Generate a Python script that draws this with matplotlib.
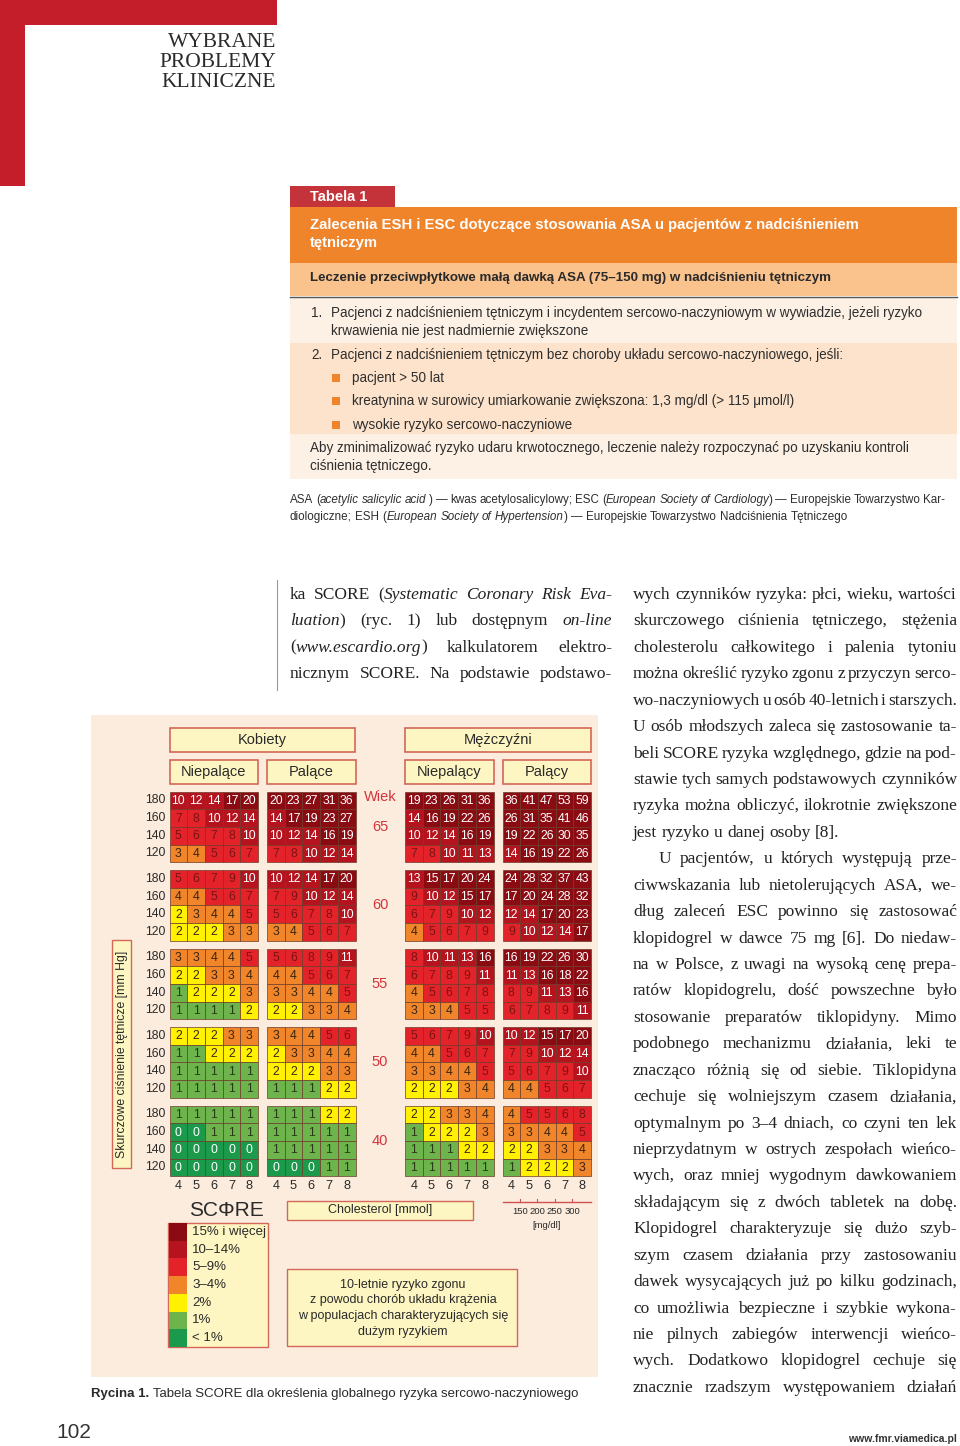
import matplotlib
matplotlib.use('Agg')
import matplotlib.pyplot as plt
from matplotlib.patches import Rectangle

plt.rcParams['font.family'] = ['Liberation Sans', 'DejaVu Sans']

# ---------------- data ----------------
ages = [65, 60, 55, 50, 40]
sbp = [180, 160, 140, 120]
chol = [4, 5, 6, 7, 8]

women_non = [
    [[10, 12, 14, 17, 20], [7, 8, 10, 12, 14], [5, 6, 7, 8, 10], [3, 4, 5, 6, 7]],
    [[5, 6, 7, 9, 10], [4, 4, 5, 6, 7], [2, 3, 4, 4, 5], [2, 2, 2, 3, 3]],
    [[3, 3, 4, 4, 5], [2, 2, 3, 3, 4], [1, 2, 2, 2, 3], [1, 1, 1, 1, 2]],
    [[2, 2, 2, 3, 3], [1, 1, 2, 2, 2], [1, 1, 1, 1, 1], [1, 1, 1, 1, 1]],
    [[1, 1, 1, 1, 1], [0, 0, 1, 1, 1], [0, 0, 0, 0, 0], [0, 0, 0, 0, 0]],
]
women_smk = [
    [[20, 23, 27, 31, 36], [14, 17, 19, 23, 27], [10, 12, 14, 16, 19], [7, 8, 10, 12, 14]],
    [[10, 12, 14, 17, 20], [7, 9, 10, 12, 14], [5, 6, 7, 8, 10], [3, 4, 5, 6, 7]],
    [[5, 6, 8, 9, 11], [4, 4, 5, 6, 7], [3, 3, 4, 4, 5], [2, 2, 3, 3, 4]],
    [[3, 4, 4, 5, 6], [2, 3, 3, 4, 4], [2, 2, 2, 3, 3], [1, 1, 1, 2, 2]],
    [[1, 1, 1, 2, 2], [1, 1, 1, 1, 1], [1, 1, 1, 1, 1], [0, 0, 0, 1, 1]],
]
men_non = [
    [[19, 23, 26, 31, 36], [14, 16, 19, 22, 26], [10, 12, 14, 16, 19], [7, 8, 10, 11, 13]],
    [[13, 15, 17, 20, 24], [9, 10, 12, 15, 17], [6, 7, 9, 10, 12], [4, 5, 6, 7, 9]],
    [[8, 10, 11, 13, 16], [6, 7, 8, 9, 11], [4, 5, 6, 7, 8], [3, 3, 4, 5, 5]],
    [[5, 6, 7, 9, 10], [4, 4, 5, 6, 7], [3, 3, 4, 4, 5], [2, 2, 2, 3, 4]],
    [[2, 2, 3, 3, 4], [1, 2, 2, 2, 3], [1, 1, 1, 2, 2], [1, 1, 1, 1, 1]],
]
men_smk = [
    [[36, 41, 47, 53, 59], [26, 31, 35, 41, 46], [19, 22, 26, 30, 35], [14, 16, 19, 22, 26]],
    [[24, 28, 32, 37, 43], [17, 20, 24, 28, 32], [12, 14, 17, 20, 23], [9, 10, 12, 14, 17]],
    [[16, 19, 22, 26, 30], [11, 13, 16, 18, 22], [8, 9, 11, 13, 16], [6, 7, 8, 9, 11]],
    [[10, 12, 15, 17, 20], [7, 9, 10, 12, 14], [5, 6, 7, 9, 10], [4, 4, 5, 6, 7]],
    [[4, 5, 5, 6, 8], [3, 3, 4, 4, 5], [2, 2, 3, 3, 4], [1, 2, 2, 2, 3]],
]
panels = [women_non, women_smk, men_non, men_smk]
groups = ['Niepalące', 'Palące', 'Niepalący', 'Palący']
sexes = ['Kobiety', 'Mężczyźni']

risk_labels = ['15% i więcej', '10–14%', '5–9%', '3–4%', '2%', '1%', '< 1%']
risk_colors = ['#8b0b13', '#b5141e', '#e42229', '#f0852a', '#fff100', '#6cb44b', '#1c9a4b']
risk_text = ['white', 'white', '#7a1414', '#3a2410', '#3a2410', '#2b3a16', 'white']
mgdl_ticks = [150, 200, 250, 300]

header_lines = ['WYBRANE', 'PROBLEMY', 'KLINICZNE']
table_title = ['Zalecenia ESH i ESC dotyczące stosowania ASA u pacjentów z nadciśnieniem',
               'tętniczym']
table_sub = 'Leczenie przeciwpłytkowe małą dawką ASA (75–150 mg) w nadciśnieniu tętniczym'
item1 = ['Pacjenci z nadciśnieniem tętniczym i incydentem sercowo-naczyniowym w wywiadzie, jeżeli ryzyko',
         'krwawienia nie jest nadmiernie zwiększone']
item2 = 'Pacjenci z nadciśnieniem tętniczym bez choroby układu sercowo-naczyniowego, jeśli:'
bullets = ['pacjent > 50 lat',
           'kreatynina w surowicy umiarkowanie zwiększona: 1,3 mg/dl (> 115 μmol/l)',
           'wysokie ryzyko sercowo-naczyniowe']
table_note = ['Aby zminimalizować ryzyko udaru krwotocznego, leczenie należy rozpoczynać po uzyskaniu kontroli',
              'ciśnienia tętniczego.']
footnote = ['ASA (*acetylic salicylic acid* ) — kwas acetylosalicylowy; ESC (*European Society of Cardiology*) — Europejskie Towarzystwo Kar-',
            'diologiczne; ESH (*European Society of Hypertension*) — Europejskie Towarzystwo Nadciśnienia Tętniczego']

left_col = ['ka SCORE (*Systematic Coronary Risk Eva-*',
            '*luation*) (ryc. 1) lub dostępnym *on-line*',
            '(*www.escardio.org*) kalkulatorem elektro-',
            'nicznym SCORE. Na podstawie podstawo-']
right_col = ['wych czynników ryzyka: płci, wieku, wartości',
             'skurczowego ciśnienia tętniczego, stężenia',
             'cholesterolu całkowitego i palenia tytoniu',
             'można określić ryzyko zgonu z przyczyn serco-',
             'wo-naczyniowych u osób 40-letnich i starszych.',
             'U osób młodszych zaleca się zastosowanie ta-',
             'beli SCORE ryzyka względnego, gdzie na pod-',
             'stawie tych samych podstawowych czynników',
             'ryzyka można obliczyć, ilokrotnie zwiększone',
             'jest ryzyko u danej osoby [8].',
             'U pacjentów, u których występują prze-',
             'ciwwskazania lub nietolerujących ASA, we-',
             'dług zaleceń ESC powinno się zastosować',
             'klopidogrel w dawce 75 mg [6]. Do niedaw-',
             'na w Polsce, z uwagi na wysoką cenę prepa-',
             'ratów klopidogrelu, dość powszechne było',
             'stosowanie preparatów tiklopidyny. Mimo',
             'podobnego mechanizmu działania, leki te',
             'znacząco różnią się od siebie. Tiklopidyna',
             'cechuje się wolniejszym czasem działania,',
             'optymalnym po 3–4 dniach, co czyni ten lek',
             'nieprzydatnym w ostrych zespołach wieńco-',
             'wych, oraz mniej wygodnym dawkowaniem',
             'składającym się z dwóch tabletek na dobę.',
             'Klopidogrel charakteryzuje się dużo szyb-',
             'szym czasem działania przy zastosowaniu',
             'dawek wysycających już po kilku godzinach,',
             'co umożliwia bezpieczne i szybkie wykona-',
             'nie pilnych zabiegów interwencji wieńco-',
             'wych. Dodatkowo klopidogrel cechuje się',
             'znacznie rzadszym występowaniem działań']
right_indent = [10]
right_ragged = [9]

desc_lines = ['10-letnie ryzyko zgonu', 'z powodu chorób układu krążenia',
              'w populacjach charakteryzujących się', 'dużym ryzykiem']

# ---------------- figure ----------------
fig = plt.figure(figsize=(9.6, 14.46), dpi=100)
ax = fig.add_axes([0, 0, 1, 1])
ax.set_xlim(0, 960)
ax.set_ylim(1446, 0)
ax.axis('off')
renderer = fig.canvas.get_renderer()

RED = '#c41e2a'
TXT = '#2e2e2e'
BOX_FC = '#fdf6c2'
BOX_EC = '#d4675a'
SERIF = ['Liberation Serif', 'DejaVu Serif']


def rect(x, y, w, h, fc, ec='none', lw=0, z=1):
    ax.add_patch(Rectangle((x, y), w, h, facecolor=fc, edgecolor=ec, linewidth=lw, zorder=z))


def measure(s, **kw):
    t = ax.text(0, 0, s, **kw)
    w = t.get_window_extent(renderer).width
    t.remove()
    return w


def parse_words(line):
    words = [[]]
    for i, part in enumerate(line.split('*')):
        style = 'italic' if i % 2 else 'normal'
        for j, c in enumerate(part.split(' ')):
            if j > 0:
                words.append([])
            if c:
                words[-1].append((c, style))
    return [w for w in words if w]


def set_line(x0, x1, y, line, justify=True, **kw):
    words = parse_words(line)
    widths = [sum(measure(s, style=st, **kw) for s, st in w) for w in words]
    space = measure('x x', **kw) - measure('xx', **kw)
    if justify and len(words) > 1:
        gap = (x1 - x0 - sum(widths)) / (len(words) - 1)
    else:
        gap = space
    x = x0
    for w, wd in zip(words, widths):
        xx = x
        for s, st in w:
            ax.text(xx, y, s, style=st, va='baseline', ha='left', **kw)
            xx += measure(s, style=st, **kw)
        x += wd + gap


# page frame
rect(0, 0, 277, 25, RED)
rect(0, 0, 25, 186, RED)
for i, s in enumerate(header_lines):
    ax.text(276, 47 + i * 20, s, ha='right', va='baseline', fontsize=15.5,
            family=SERIF, color='#2a2a2a')

# table 1
rect(290, 186, 105, 22, '#c4333a')
ax.text(310, 197, 'Tabela 1', color='white', fontweight='bold', fontsize=10.5, va='center')
rect(290, 207, 667, 56, '#f0842b')
for i, s in enumerate(table_title):
    ax.text(310, 225 + i * 18, s, color='white', fontweight='bold', fontsize=10.7, va='center')
rect(290, 263, 667, 33, '#fac28c')
ax.text(310, 278, table_sub, color='#2a2a2a', fontweight='bold', fontsize=9.6, va='center')
ax.plot([290, 957], [296.5, 296.5], color='#555555', lw=1)
rect(290, 297, 667, 46, '#fdf1e5')
rect(290, 343, 667, 91, '#fde3cb')
rect(290, 434, 667, 45, '#fdf1e5')

fs_t = 9.75
ax.text(311, 313, '1.', color=TXT, fontsize=fs_t, va='center')
for i, s in enumerate(item1):
    ax.text(331, 313 + i * 18, s, color=TXT, fontsize=fs_t, va='center')
ax.text(311, 355, '2.', color=TXT, fontsize=fs_t, va='center')
ax.text(331, 355, item2, color=TXT, fontsize=fs_t, va='center')
for i, s in enumerate(bullets):
    yy = 378 + i * 23.3
    rect(332, yy - 4, 8, 8, '#f0842b')
    ax.text(352, yy, s, color=TXT, fontsize=fs_t, va='center')
for i, s in enumerate(table_note):
    ax.text(310, 448 + i * 18, s, color=TXT, fontsize=fs_t, va='center')
for i, s in enumerate(footnote):
    set_line(290, 945, 503 + i * 17, s, justify=(i == 0), fontsize=8.4, color=TXT)

# body text columns
ax.plot([277, 277], [580, 690], color='#999999', lw=0.8)
for i, s in enumerate(left_col):
    set_line(290, 612, 599 + i * 26.4, s, fontsize=12.5, family=SERIF, color='#222222')
for i, s in enumerate(right_col):
    x0 = 659 if i in right_indent else 633
    set_line(x0, 957, 599 + i * 26.43, s, justify=(i not in right_ragged),
             fontsize=12.5, family=SERIF, color='#222222')

# ---------------- SCORE chart ----------------
rect(91, 715, 507, 662, '#fbecdd', z=0)

cell = 17.7
panel_x = [169.5, 267.0, 405.0, 502.5]
block_y = 791.5
block_step = 78.5


def risk_index(v):
    if v >= 15:
        return 0
    if v >= 10:
        return 1
    if v >= 5:
        return 2
    if v >= 3:
        return 3
    if v == 2:
        return 4
    if v == 1:
        return 5
    return 6


for p, data in enumerate(panels):
    x0 = panel_x[p]
    for a, block in enumerate(data):
        y0 = block_y + a * block_step
        for r, row in enumerate(block):
            for c, v in enumerate(row):
                k = risk_index(v)
                rect(x0 + c * cell, y0 + r * cell, cell, cell, risk_colors[k],
                     ec='#6e3a2a', lw=0.5, z=2)
                ax.text(x0 + (c + 0.5) * cell, y0 + (r + 0.5) * cell + 0.5, str(v),
                        ha='center', va='center', fontsize=8.8, color=risk_text[k], zorder=3)
    for c, ch in enumerate(chol):
        ax.text(x0 + (c + 0.5) * cell, 1186, str(ch), ha='center', va='center',
                fontsize=9.2, color='#2a2a2a')

# SBP labels
for a in range(len(ages)):
    for r, s in enumerate(sbp):
        ax.text(165, block_y + a * block_step + (r + 0.5) * cell, str(s),
                ha='right', va='center', fontsize=8.8, color='#2a2a2a')

# age labels
ax.text(380, 797, 'Wiek', ha='center', va='center', fontsize=10.5, color='#d4343c')
for a, age in enumerate(ages):
    ax.text(380, block_y + a * block_step + 2 * cell, str(age), ha='center', va='center',
            fontsize=10.5, color='#d4343c')

# header boxes
for s, (x0, x1) in zip(sexes, [(170, 355), (405, 591)]):
    rect(x0, 728, x1 - x0, 24, BOX_FC, BOX_EC, 1.2)
    ax.text((x0 + x1) / 2, 740, s, ha='center', va='center', fontsize=10.5, color='#2a2a2a')
for s, x0 in zip(groups, panel_x):
    rect(x0, 760, 5 * cell, 24, BOX_FC, BOX_EC, 1.2)
    ax.text(x0 + 2.5 * cell, 772, s, ha='center', va='center', fontsize=10.5, color='#2a2a2a')

# y label
rect(112, 940, 19, 228, BOX_FC, BOX_EC, 1.0)
ax.text(121.5, 1054, 'Skurczowe ciśnienie tętnicze [mm Hg]', rotation=90,
        ha='center', va='center', fontsize=8.8, color='#2a2a2a')

# cholesterol label
rect(287, 1201, 186, 19, BOX_FC, BOX_EC, 1.0)
ax.text(380, 1210.5, 'Cholesterol [mmol]', ha='center', va='center', fontsize=9, color='#2a2a2a')

# mg/dl scale
ax.plot([502.5, 591], [1202, 1202], color='#d05050', lw=1)
for v in mgdl_ticks:
    xv = 468 + 0.347 * v
    ax.plot([xv, xv], [1199, 1202], color='#d05050', lw=0.8)
    ax.text(xv, 1212, str(v), ha='center', va='center', fontsize=6.8, color='#2a2a2a')
ax.text(547, 1226, '[mg/dl]', ha='center', va='center', fontsize=6.8, color='#2a2a2a')

# SCORE legend
ax.text(189, 1211, 'SCΦRE', ha='left', va='center', fontsize=15, color='#2a2a2a')
rect(168, 1223, 100, 124, BOX_FC, BOX_EC, 1.0)
lh = 124 / len(risk_labels)
for i, (lab, col) in enumerate(zip(risk_labels, risk_colors)):
    rect(169, 1223 + i * lh, 18, lh, col, z=2)
    ax.text(192, 1223 + (i + 0.5) * lh, lab, ha='left', va='center', fontsize=9.5,
            color='#2a2a2a')

# description box
rect(287, 1269, 230, 77, BOX_FC, BOX_EC, 1.0)
for i, s in enumerate(desc_lines):
    ax.text(403, 1285 + i * 15.5, s, ha='center', va='center', fontsize=9, color='#2a2a2a')

# caption
ax.text(91, 1397, 'Rycina 1.', fontweight='bold', fontsize=9.5, va='baseline', color='#2a2a2a')
w = measure('Rycina 1. ', fontweight='bold', fontsize=9.5)
ax.text(91 + w, 1397, 'Tabela SCORE dla określenia globalnego ryzyka sercowo-naczyniowego',
        fontsize=9.5, va='baseline', color='#2a2a2a')

# footer
ax.text(56, 1433, '102', fontsize=15, va='center', color='#333333')
ax.text(957, 1439, 'www.fmr.viamedica.pl', fontsize=7.5, fontweight='bold', ha='right',
        va='center', color='#333333')

fig.savefig('out.png', dpi=100, facecolor='white')
